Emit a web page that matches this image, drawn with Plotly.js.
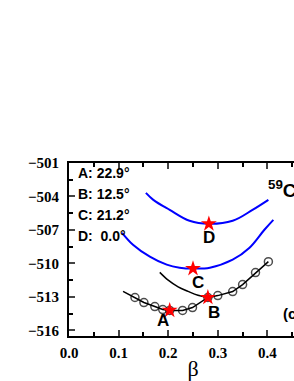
<!DOCTYPE html>
<html><head><meta charset="utf-8">
<script src="https://cdn.plot.ly/plotly-3.0.1.min.js"></script>
<style>html,body{margin:0;padding:0;width:294px;height:381px;overflow:hidden;background:#fff}</style>
</head><body><div id="plot"></div>
<script>
// Open-circle calculated points (first point drawn without marker)
const betaPts = [0.109, 0.133, 0.151, 0.173, 0.189, 0.203, 0.229, 0.249, 0.280, 0.300, 0.330, 0.350, 0.376, 0.402];
const ePts    = [-512.5, -513.05, -513.5, -513.86, -514.13, -514.21, -514.21, -513.95, -513.05, -512.88, -512.52, -511.89, -510.82, -509.84];
// Black curve ending at B
const betaBlack = [0.183, 0.200, 0.220, 0.240, 0.260, 0.280];
const eBlack    = [-510.8, -511.5, -512.1, -512.5, -512.85, -513.05];
// Blue curve through C
const betaC = [0.107, 0.129, 0.163, 0.197, 0.223, 0.250, 0.284, 0.330, 0.364, 0.394, 0.412];
const eC    = [-507.25, -508.32, -509.39, -510.11, -510.38, -510.46, -510.38, -509.66, -508.59, -506.98, -506.09];
// Blue curve through D
const betaD = [0.155, 0.170, 0.203, 0.243, 0.282, 0.330, 0.370, 0.402];
const eD    = [-503.68, -504.3, -505.2, -506.18, -506.45, -506.18, -505.2, -504.3];
// Stars
const starLabels = ['A', 'B', 'C', 'D'];
const starBeta = [0.203, 0.280, 0.250, 0.282];
const starE    = [-514.2, -513.05, -510.46, -506.45];
// Label positions
const labBeta = [0.189, 0.292, 0.260, 0.282];
const labE    = [-515.1, -514.4, -511.7, -507.7];
// Legend text
const legendText = ['A: 22.9°', 'B: 12.5°', 'C: 21.2°', 'D:  0.0°'];
const legendE = [-501.89, -503.77, -505.64, -507.52];
// Tick labels
const xTicks = [0.0, 0.1, 0.2, 0.3, 0.4];
const xTickText = ['0.0', '0.1', '0.2', '0.3', '0.4'];

const markerSizes = betaPts.map((b, i) => i === 0 ? 0 : 8);

const traces = [
  {x: betaD, y: eD, mode: 'lines', line: {color: '#0000ff', width: 2, shape: 'spline'}, hoverinfo: 'skip'},
  {x: betaC, y: eC, mode: 'lines', line: {color: '#0000ff', width: 2, shape: 'spline'}, hoverinfo: 'skip'},
  {x: betaBlack, y: eBlack, mode: 'lines', line: {color: '#000', width: 1.5, shape: 'spline'}, hoverinfo: 'skip'},
  {x: betaPts, y: ePts, mode: 'lines+markers', line: {color: '#000', width: 1.5},
   marker: {symbol: 'circle-open', size: markerSizes, color: '#000', line: {width: 1.5, color: '#000'}}},
  {x: starBeta, y: starE, mode: 'markers', marker: {symbol: 'star', size: 12, color: '#ff0000', line: {width: 0}}}
];

const annotations = [];
starLabels.forEach((t, i) => annotations.push({x: labBeta[i], y: labE[i], text: t, showarrow: false,
  font: {family: 'Liberation Sans, Arial', size: 17, color: '#000', weight: 'bold'}}));
legendText.forEach((t, i) => annotations.push({x: 0.014, y: legendE[i], text: t, showarrow: false, xanchor: 'left',
  font: {family: 'Liberation Sans, Arial', size: 14, color: '#000', weight: 'bold'}}));
annotations.push({x: 0.397, y: -503.3, text: '<sup>59</sup>Co', showarrow: false, xanchor: 'left',
  font: {family: 'Liberation Sans, Arial', size: 19, color: '#000', weight: 'bold'}});
annotations.push({x: 0.428, y: -514.5, text: '(c)', showarrow: false, xanchor: 'left',
  font: {family: 'Liberation Sans, Arial', size: 15, color: '#000', weight: 'bold'}});

const tickFont = {family: 'Liberation Serif', size: 15, color: '#000', weight: 'bold'};

const layout = {
  width: 330, height: 381,
  margin: {l: 69, r: 12.5, t: 163, b: 45},
  showlegend: false,
  paper_bgcolor: '#fff', plot_bgcolor: '#fff',
  xaxis: {range: [0, 0.5], tickmode: 'array', tickvals: xTicks, ticktext: xTickText, ticks: 'inside', ticklen: 6, tickwidth: 2,
    minor: {tickmode: 'linear', tick0: 0, dtick: 0.05, ticks: 'inside', ticklen: 4, tickwidth: 2, tickcolor: '#000'},
    showline: true, linewidth: 2, linecolor: '#000', mirror: 'ticks', showgrid: false, zeroline: false,
    tickfont: tickFont, ticklabelstandoff: 2,
    title: {text: 'β', font: {family: 'Liberation Serif', size: 22, color: '#000'}, standoff: 2}},
  yaxis: {range: [-516.5, -501], tick0: -501, dtick: 3, ticks: 'inside', ticklen: 6, tickwidth: 2,
    minor: {dtick: 1.5, ticks: 'inside', ticklen: 4, tickwidth: 2, tickcolor: '#000'},
    showline: true, linewidth: 2, linecolor: '#000', mirror: 'ticks', showgrid: false, zeroline: false,
    tickfont: tickFont, ticklabelstandoff: 5},
  annotations: annotations
};

Plotly.newPlot('plot', traces, layout, {displayModeBar: false, staticPlot: true});
</script>
</body></html>
